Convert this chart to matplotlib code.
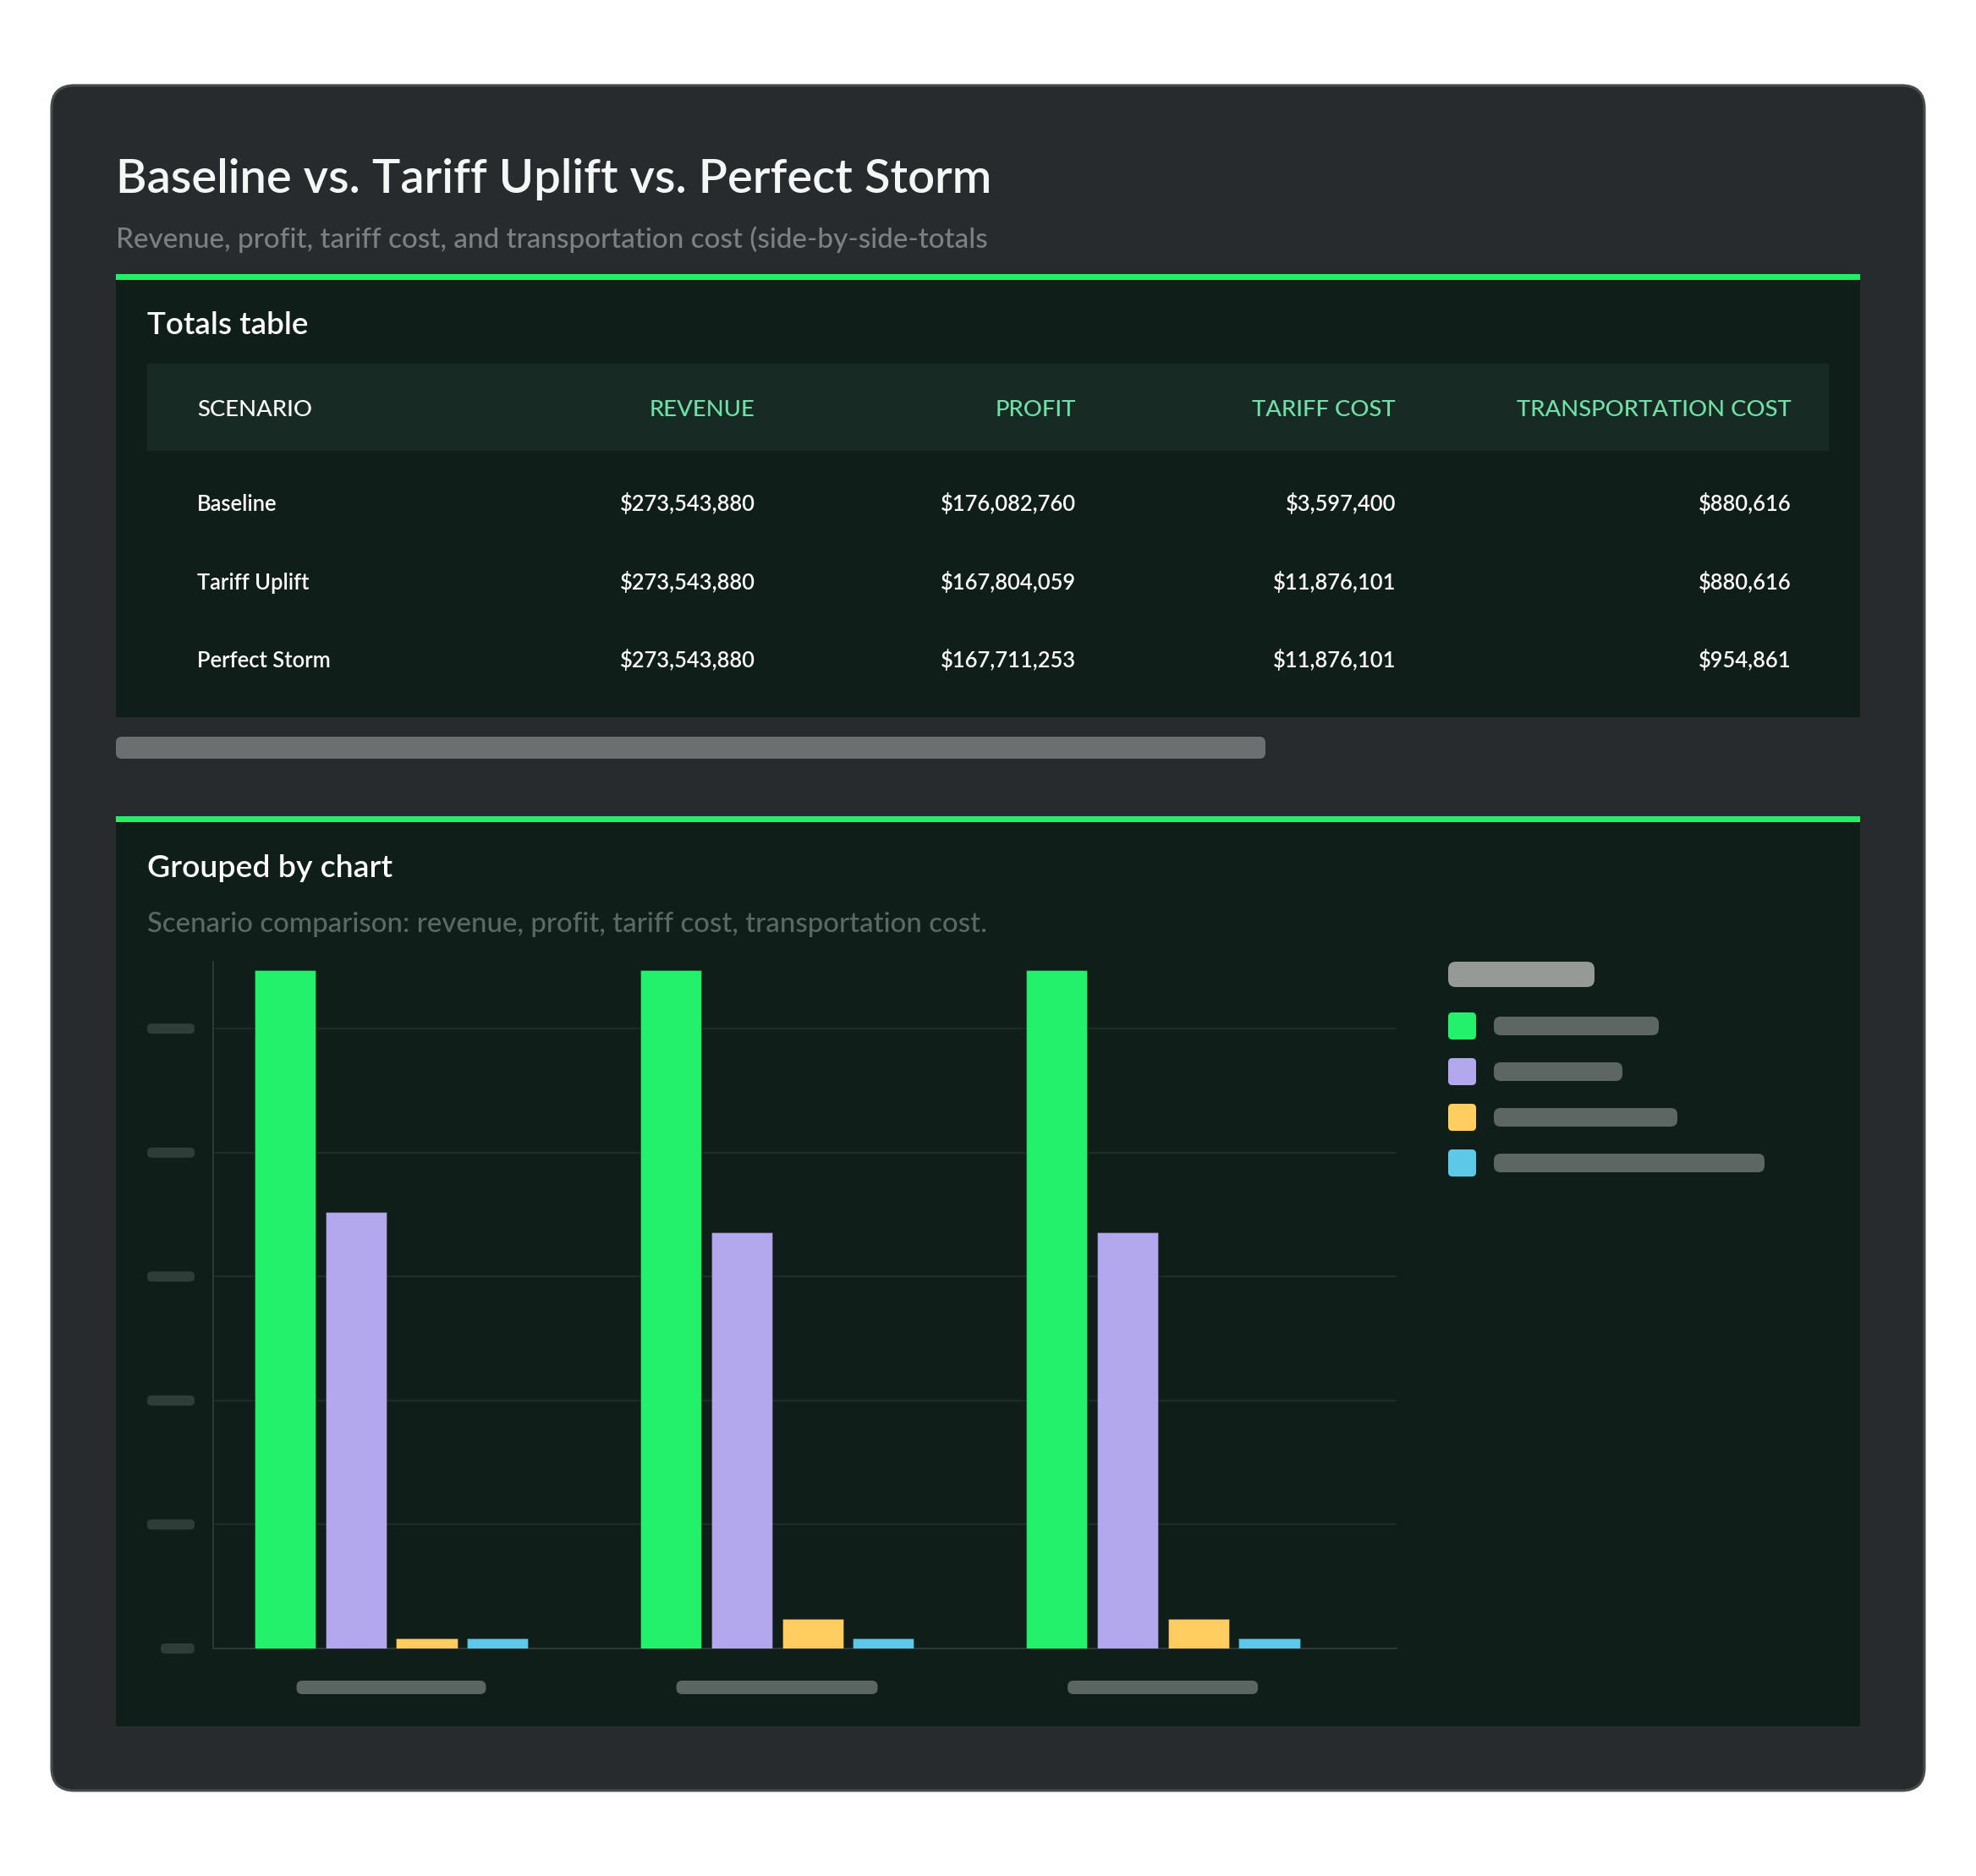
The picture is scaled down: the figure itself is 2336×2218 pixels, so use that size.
import numpy as np
import matplotlib.pyplot as plt
from matplotlib.patches import FancyBboxPatch, Rectangle

plt.rcParams['font.family'] = ['Lato', 'DejaVu Sans']

# ---- data ----
scenarios = ['Baseline', 'Tariff Uplift', 'Perfect Storm']
metrics = ['Revenue', 'Profit', 'Tariff cost', 'Transportation cost']
revenue = [273543880, 273543880, 273543880]
profit = [176082760, 167804059, 167711253]
tariff_cost = [3597400, 11876101, 11876101]
transport_cost = [880616, 880616, 954861]
headers = ['SCENARIO', 'REVENUE', 'PROFIT', 'TARIFF COST', 'TRANSPORTATION COST']
y_ticks = [0, 50e6, 100e6, 150e6, 200e6, 250e6]

series_colors = ['#23f06b', '#b3a8ee', '#ffcd60', '#5ec8e9']

W, H = 2336, 2218
CARD = '#282b2d'
CARD_EDGE = '#474c4d'
PANEL = '#101e1a'
BAND = '#172a24'
ACCENT = '#22ee6a'
MINT = '#6fe0a6'
SUB = '#7b8083'
CHART_SUB = '#5c6865'

fig = plt.figure(figsize=(W / 100, H / 100), dpi=100, facecolor='white')
bg = fig.add_axes([0, 0, 1, 1])
bg.set_xlim(0, W)
bg.set_ylim(H, 0)
bg.axis('off')
renderer = fig.canvas.get_renderer()


def pill(x0, y0, x1, y1, color, r=None, z=2):
    h = y1 - y0
    r = h / 2 if r is None else r
    bg.add_patch(FancyBboxPatch((x0, y0), x1 - x0, h,
                                boxstyle=f'round,pad=0,rounding_size={r}',
                                fc=color, ec='none', zorder=z))


def label(x, y, s, target_w=None, size=20, **kw):
    t = bg.text(x, y, s, fontsize=size, va='baseline', **kw)
    if target_w:
        w = t.get_window_extent(renderer).width
        t.set_fontsize(size * target_w / w)
    return t


# card
bg.add_patch(FancyBboxPatch((61, 101), 2214, 2016,
                            boxstyle='round,pad=0,rounding_size=27',
                            fc=CARD, ec=CARD_EDGE, lw=2.2, zorder=1))

label(137, 228, 'Baseline vs. Tariff Uplift vs. Perfect Storm', 1036,
      size=36, color='#f5f7f6', weight='semibold')
label(137, 293, 'Revenue, profit, tariff cost, and transportation cost (side-by-side-totals',
      1034, size=20, color=SUB, weight='medium')

# ---- totals table ----
bg.add_patch(Rectangle((137, 331), 2062, 517, fc=PANEL, ec='none', zorder=2))
bg.add_patch(Rectangle((137, 324), 2062, 7, fc=ACCENT, ec='none', zorder=3))
label(174, 395, 'Totals table', 191, size=24, color='white', weight='semibold')
bg.add_patch(Rectangle((174, 430), 1988, 103, fc=BAND, ec='none', zorder=3))

col_x = [233, 893, 1272, 1650, 2118]
t = label(col_x[4], 492, headers[4], 326, size=18, color=MINT, ha='right',
          weight='medium', zorder=4)
head_size = t.get_fontsize()
label(col_x[0], 492, headers[0], size=head_size, color='white', weight='medium', zorder=4)
for cx, h in zip(col_x[1:4], headers[1:4]):
    label(cx, 492, h, size=head_size, color=MINT, ha='right', weight='medium', zorder=4)

row_y = [604, 697, 789]
t = label(col_x[2], row_y[0], f'${profit[0]:,.0f}', 160, size=18, color='white',
          ha='right', weight='semibold', zorder=4)
body_size = t.get_fontsize()
for i, name in enumerate(scenarios):
    label(col_x[0], row_y[i], name, size=body_size, color='white', weight='semibold', zorder=4)
    vals = [revenue[i], profit[i], tariff_cost[i], transport_cost[i]]
    for j, v in enumerate(vals):
        if i == 0 and j == 1:
            continue
        label(col_x[j + 1], row_y[i], f'${v:,.0f}', size=body_size, color='white',
              ha='right', weight='semibold', zorder=4)

# scrollbar
pill(137, 871, 1496, 897, '#6b6f70', r=7)

# ---- chart panel ----
bg.add_patch(Rectangle((137, 972), 2062, 1069, fc=PANEL, ec='none', zorder=2))
bg.add_patch(Rectangle((137, 965), 2062, 7, fc=ACCENT, ec='none', zorder=3))
label(174, 1037, 'Grouped by chart', 290, size=24, color='white', weight='semibold', zorder=4)
label(174, 1102, 'Scenario comparison: revenue, profit, tariff cost, transportation cost.',
      991, size=20, color=CHART_SUB, weight='medium', zorder=4)

ax_l, ax_r, ax_t, ax_b = 252, 1651, 1137, 1949
ax = fig.add_axes([ax_l / W, 1 - ax_b / H, (ax_r - ax_l) / W, (ax_b - ax_t) / H])
ax.set_facecolor(PANEL)
ax.set_xlim(-0.4616, 2.606)
ax.set_ylim(0, 277e6)

x = np.arange(len(scenarios))
step = 0.184
width = 0.158
min_h = 12 * 277e6 / (ax_b - ax_t)   # minimum visible bar length (~12 px)
for k, (vals, c) in enumerate(zip([revenue, profit, tariff_cost, transport_cost],
                                  series_colors)):
    hts = np.maximum(np.array(vals, dtype=float), min_h)
    ax.bar(x + (k - 1.5) * step, hts, width, color=c,
           edgecolor=(0, 0, 0, 0.25), linewidth=0.8, zorder=3, label=metrics[k])

ax.set_yticks(y_ticks)
ax.set_xticks(x)
ax.set_yticklabels([])
ax.set_xticklabels([])
ax.tick_params(length=0)
ax.grid(axis='y', color='#1f2c28', linewidth=1.6, zorder=0)
ax.set_axisbelow(True)
for sp in ['top', 'right']:
    ax.spines[sp].set_visible(False)
for sp in ['left', 'bottom']:
    ax.spines[sp].set_color('#2f3a37')
    ax.spines[sp].set_linewidth(1.4)

# placeholder tick labels (skeleton pills)
for v in y_ticks:
    yy = H - ax.transData.transform((0, v))[1]
    x0 = 190 if v == 0 else 174
    pill(x0, yy - 6, 230, yy + 6, '#2f3d39', r=5, z=4)
xpill_w = [224, 238, 225]
for i in x:
    cx = ax.transData.transform((i, 0))[0]
    pill(cx - xpill_w[i] / 2, 1987, cx + xpill_w[i] / 2, 2003, '#5b6663', r=7, z=4)

# placeholder legend
pill(1712, 1137, 1885, 1167, '#959a97', r=9, z=4)
leg_w = [195, 152, 217, 320]
for k, c in enumerate(series_colors):
    cy = 1213 + k * 54
    pill(1712, cy - 16, 1745, cy + 16, c, r=5, z=4)
    pill(1766, cy - 11, 1766 + leg_w[k], cy + 11, '#5d6662', r=8, z=4)

fig.savefig('out.png', dpi=100, facecolor='white')
